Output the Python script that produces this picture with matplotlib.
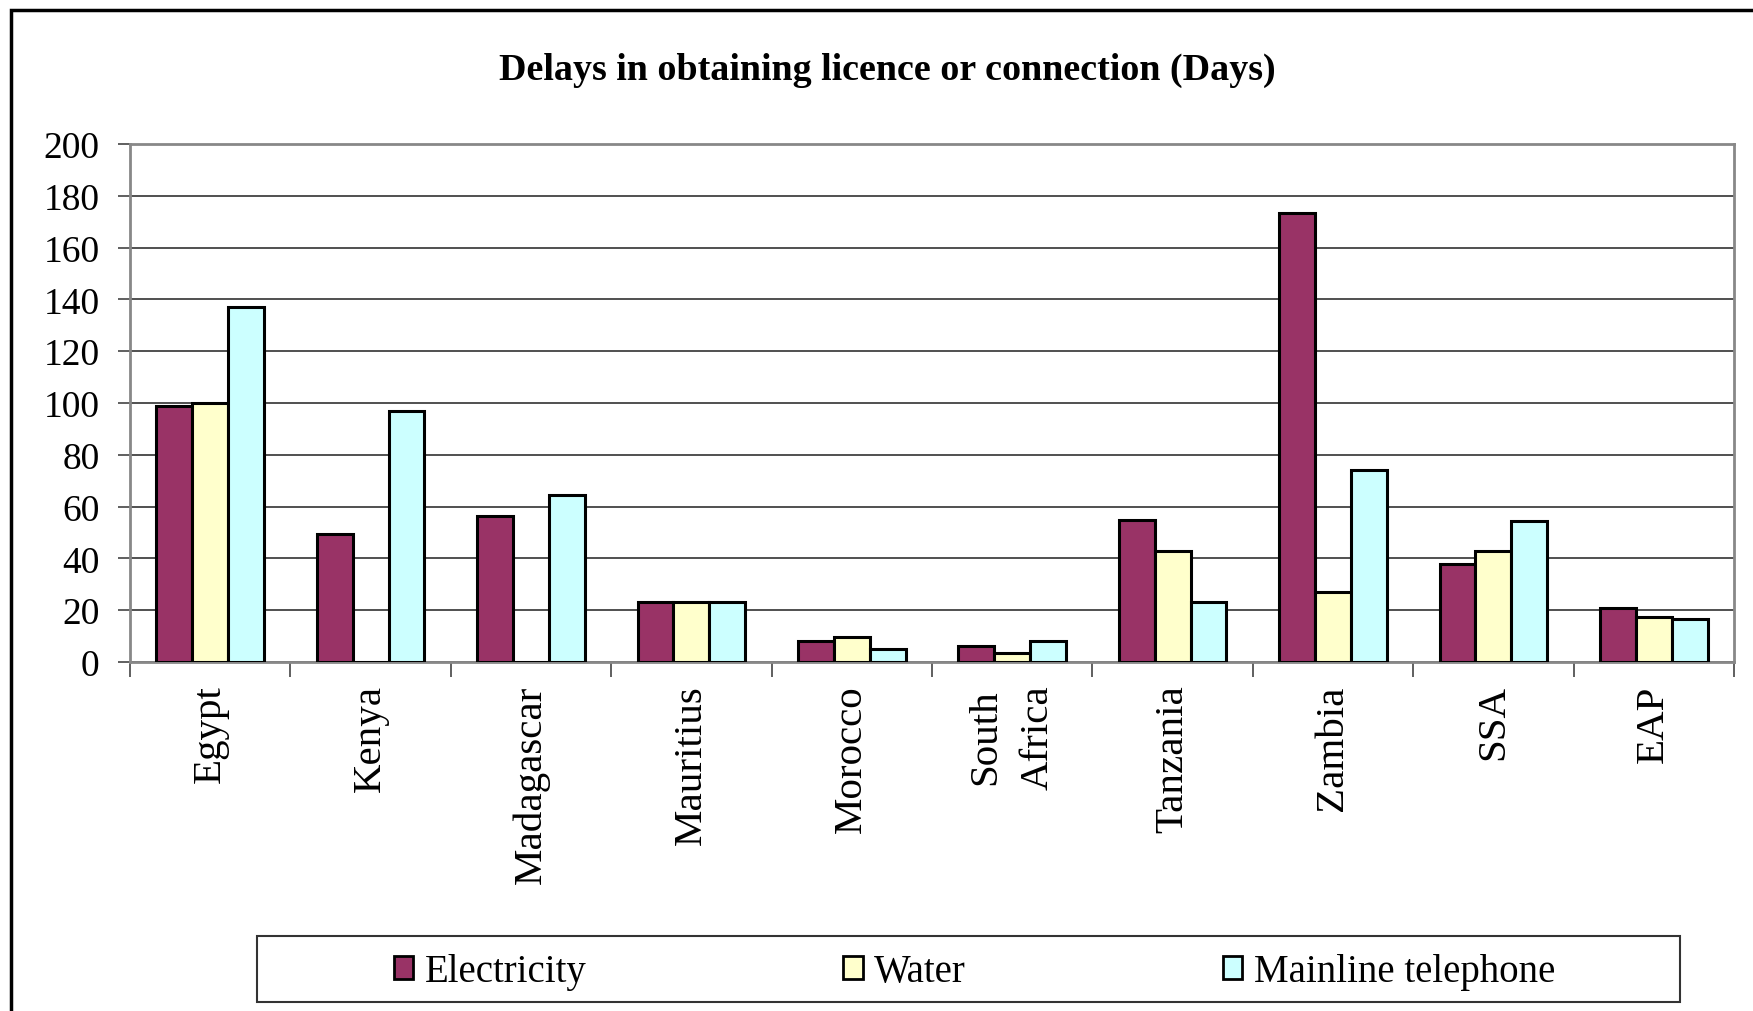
import numpy as np
import matplotlib
matplotlib.use("Agg")
import matplotlib.pyplot as plt
from matplotlib.patches import Rectangle, Patch

# data
countries = ["Egypt", "Kenya", "Madagascar", "Mauritius", "Morocco",
             "South\nAfrica", "Tanzania", "Zambia", "SSA", "EAP"]
electricity = [99, 49.5, 56.5, 23, 8, 6, 55, 173.5, 38, 21]
water = [100, 0, 0, 23, 9.5, 3.5, 43, 27, 43, 17.5]
telephone = [137, 97, 64.5, 23, 5, 8, 23, 74, 54.5, 16.5]
series_names = ["Electricity", "Water", "Mainline telephone"]
colors = ["#993366", "#FFFFCC", "#CCFFFF"]
yticks = list(range(0, 201, 20))

plt.rcParams['font.family'] = ['Liberation Serif', 'DejaVu Serif']

W, H = 1753, 1012
fig = plt.figure(figsize=(W / 100, H / 100), dpi=100)

# axes box in pixel coordinates of the reference
left, right, top, bottom = 130, 1734, 145, 663
ax = fig.add_axes([left / W, 1 - bottom / H, (right - left) / W, (bottom - top) / H])

x = np.arange(len(countries))
bw = 0.224
for i, (vals, c, name) in enumerate(zip([electricity, water, telephone], colors, series_names)):
    ax.bar(x + (i - 1) * bw, vals, width=bw, color=c, edgecolor="black",
           linewidth=2.2, label=name, zorder=3)

ax.set_xlim(-0.5, len(countries) - 0.5)
ax.set_ylim(0, 200)
ax.set_yticks(yticks)
ax.set_yticklabels([str(v) for v in yticks], fontsize=27)
ax.yaxis.grid(True, color="#202020", linewidth=1.1, zorder=0)

ax.set_xticks(x)
ax.set_xticklabels(countries, rotation=90, fontsize=29.5, va="top", ha="center",
                   linespacing=1.55)
ax.set_xticks(np.arange(-0.5, len(countries)), minor=True)
ax.tick_params(axis="x", which="major", length=0, pad=16)
ax.tick_params(axis="x", which="minor", length=11, width=1.2, color="#444444")
ax.tick_params(axis="y", length=9, width=1.2, color="#444444", pad=13)

for s in ax.spines.values():
    s.set_color("#888888")
    s.set_linewidth(2)

fig.text(793.5 / 1568, 1 - 70 / H, "Delays in obtaining licence or connection (Days)",
         ha="center", va="center", fontsize=27.4, fontweight="bold")

# legend with a separate frame
handles = [Patch(facecolor=c, edgecolor="black", linewidth=2) for c in colors]
fig.legend(handles, series_names, loc="center",
           bbox_to_anchor=((346 / 1568 + 1397 / 1568) / 2, 1 - 973 / H),
           ncol=3, frameon=False, fontsize=28, handlelength=0.5, handleheight=0.55,
           handletextpad=0.3, columnspacing=6.6)
fig.patches.append(Rectangle((257 / W, 1 - 1003 / H), (1680 - 257) / W, 66 / H,
                             transform=fig.transFigure, fill=False,
                             edgecolor="#333333", linewidth=1.5))

# outer chart border (runs off the right and bottom edges)
fig.patches.append(Rectangle((11 / W, -0.05), 1.1, 1 - 11 / H + 0.05,
                             transform=fig.transFigure, fill=False,
                             edgecolor="black", linewidth=2.5))

fig.savefig("out.png", dpi=100)
